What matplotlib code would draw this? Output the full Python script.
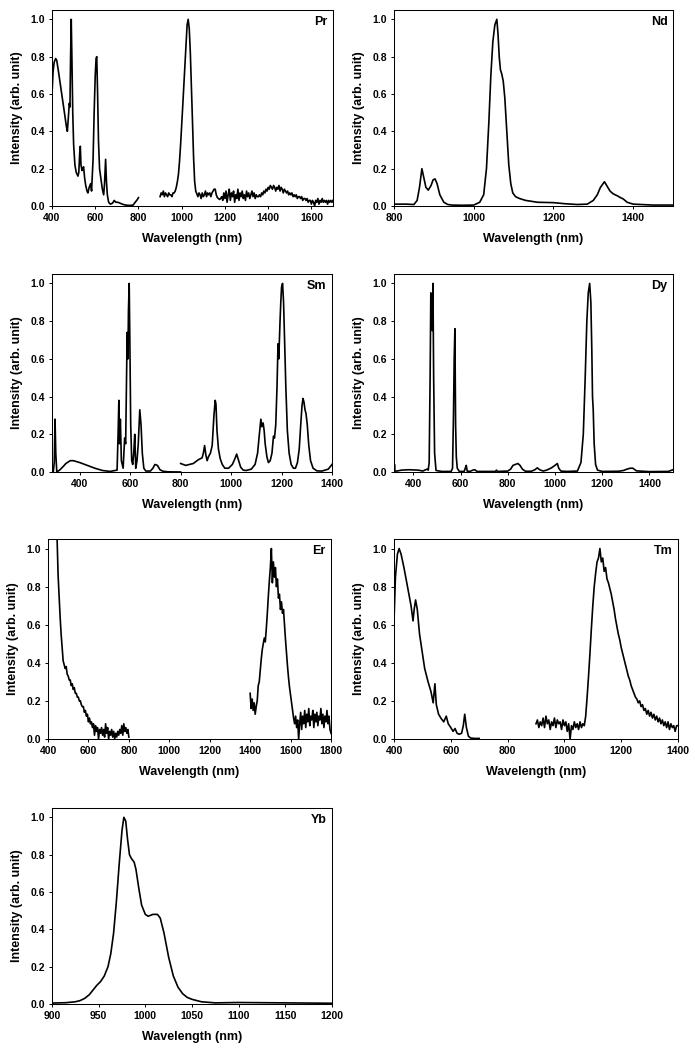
import numpy as np
import matplotlib
matplotlib.use("Agg")
import matplotlib.pyplot as plt

plt.rcParams['font.family'] = ['Liberation Sans', 'DejaVu Sans']
plt.rcParams['font.weight'] = 'bold'

# ---------------- data ----------------
# Pr
pr1_x = [400, 405, 410, 417, 422, 430, 440, 450, 460, 466, 471, 476, 480, 483, 486, 489, 492, 496, 500, 506,
         512, 520, 524, 528, 531, 534, 539, 543, 546, 551, 556, 562, 566, 572, 579, 583, 590, 595, 600, 604,
         607, 611, 615, 620, 627, 633, 639, 643, 648, 652, 656, 662, 670, 680, 688, 695, 705, 715, 725, 740,
         760, 775, 785, 795, 800]
pr1_y = [0.60, 0.72, 0.77, 0.79, 0.78, 0.72, 0.64, 0.56, 0.48, 0.43, 0.40, 0.48, 0.55, 0.53, 0.80, 1.00, 0.80, 0.50, 0.33, 0.22,
         0.18, 0.16, 0.18, 0.28, 0.32, 0.22, 0.19, 0.20, 0.21, 0.15, 0.11, 0.08, 0.07, 0.10, 0.12, 0.08, 0.25, 0.50, 0.70, 0.79,
         0.80, 0.60, 0.35, 0.20, 0.14, 0.09, 0.06, 0.12, 0.25, 0.13, 0.06, 0.02, 0.01, 0.015, 0.03, 0.02, 0.02, 0.015, 0.01, 0.005,
         0.003, 0.005, 0.02, 0.035, 0.045]
pr2_start, pr2_step = 900, 5
pr2_y = [0.05, 0.07, 0.06, 0.08, 0.05, 0.07, 0.06, 0.05, 0.07, 0.06, 0.06, 0.05, 0.07,
         0.07, 0.08, 0.10, 0.13, 0.17, 0.24, 0.33, 0.43, 0.54, 0.65, 0.77, 0.88, 0.97, 1.00, 0.95, 0.82,
         0.64, 0.45, 0.26, 0.13, 0.08, 0.065,
         0.05, 0.07, 0.06, 0.04, 0.07, 0.05, 0.06, 0.08, 0.05, 0.07, 0.06, 0.07, 0.05, 0.07,
         0.08, 0.09, 0.09, 0.06, 0.045, 0.04, 0.035, 0.04,
         0.05, 0.03, 0.07, 0.04, 0.08, 0.02, 0.06, 0.09, 0.03, 0.07, 0.05, 0.08, 0.02, 0.06, 0.04, 0.09, 0.03,
         0.07, 0.05, 0.08, 0.04, 0.06, 0.03, 0.08, 0.05, 0.07, 0.04, 0.06, 0.08, 0.05, 0.07, 0.04, 0.06, 0.05,
         0.05, 0.06, 0.05, 0.07, 0.06, 0.08, 0.07, 0.09, 0.08, 0.10, 0.09, 0.11, 0.10, 0.09, 0.11, 0.10, 0.08,
         0.10, 0.09, 0.11, 0.08, 0.10, 0.09, 0.07, 0.09, 0.08, 0.07, 0.08, 0.06, 0.07,
         0.06, 0.07, 0.05, 0.06, 0.05, 0.06, 0.04, 0.05, 0.05, 0.04, 0.05, 0.03, 0.04, 0.04, 0.03, 0.04, 0.02,
         0.03, 0.03, 0.01, 0.03, 0.02, 0.00, 0.03, 0.02, 0.04, 0.01, 0.03, 0.02, 0.04, 0.02, 0.03, 0.02, 0.03,
         0.01, 0.03, 0.02, 0.03, 0.02, 0.03]

# Nd
nd_x = [800, 830, 850, 858, 864, 870, 875, 880, 886, 893, 898, 903, 908, 915, 925, 935, 945, 970, 1000, 1015,
        1025, 1032, 1038, 1043, 1048, 1053, 1058, 1061, 1064, 1067, 1070, 1074, 1078, 1083, 1088, 1093, 1098, 1105, 1115, 1130,
        1160, 1200, 1230, 1260, 1285, 1300, 1310, 1318, 1328, 1335, 1342, 1350, 1360, 1368, 1375, 1385, 1400, 1450, 1500]
nd_y = [0.01, 0.01, 0.008, 0.03, 0.10, 0.20, 0.15, 0.10, 0.085, 0.11, 0.14, 0.145, 0.12, 0.06, 0.02, 0.008, 0.005, 0.004, 0.005, 0.02,
        0.06, 0.20, 0.45, 0.70, 0.88, 0.97, 1.00, 0.92, 0.80, 0.73, 0.71, 0.67, 0.58, 0.40, 0.22, 0.12, 0.07, 0.05, 0.04, 0.03,
        0.02, 0.018, 0.012, 0.008, 0.01, 0.03, 0.06, 0.10, 0.13, 0.105, 0.08, 0.065, 0.055, 0.045, 0.038, 0.02, 0.01, 0.005, 0.005]

# Sm
sm1_x = [295, 299, 302, 305, 309, 320, 335, 345, 362, 375, 400, 430, 460, 490, 520, 548, 552, 555, 558, 561,
         565, 572, 578, 582, 585, 588, 591, 593, 596, 599, 602, 606, 610, 614, 618, 622, 627, 632, 638, 643,
         648, 654, 662, 680, 690, 698, 708, 718, 730, 750, 800]
sm1_y = [0.00, 0.05, 0.28, 0.10, 0.00, 0.01, 0.03, 0.045, 0.06, 0.06, 0.05, 0.035, 0.02, 0.008, 0.003, 0.01, 0.20, 0.38, 0.15, 0.28,
         0.06, 0.02, 0.18, 0.15, 0.45, 0.74, 0.60, 0.85, 1.00, 0.65, 0.25, 0.06, 0.04, 0.10, 0.20, 0.02, 0.06, 0.15, 0.33, 0.25,
         0.10, 0.02, 0.005, 0.005, 0.02, 0.04, 0.035, 0.012, 0.004, 0.001, 0.0]
sm2_x = [800, 820, 850, 870, 885, 890, 895, 900, 905, 910, 918, 925, 932, 937, 940, 944, 950, 957, 965, 975,
         990, 1005, 1015, 1022, 1030, 1038, 1048, 1060, 1080, 1095, 1105, 1112, 1118, 1122, 1127, 1131, 1135, 1142, 1148, 1155,
         1162, 1168, 1172, 1177, 1182, 1186, 1189, 1192, 1194, 1197, 1200, 1204, 1208, 1212, 1217, 1223, 1230, 1238, 1247, 1255,
         1263, 1270, 1276, 1281, 1285, 1289, 1293, 1297, 1302, 1308, 1315, 1325, 1340, 1360, 1385, 1400]
sm2_y = [0.045, 0.035, 0.045, 0.065, 0.075, 0.10, 0.14, 0.09, 0.06, 0.08, 0.10, 0.14, 0.30, 0.38, 0.36, 0.22, 0.12, 0.07, 0.04, 0.02,
         0.02, 0.04, 0.07, 0.095, 0.06, 0.025, 0.01, 0.008, 0.015, 0.04, 0.10, 0.20, 0.28, 0.24, 0.26, 0.22, 0.15, 0.08, 0.05, 0.06,
         0.10, 0.19, 0.18, 0.25, 0.45, 0.68, 0.60, 0.72, 0.80, 0.90, 0.98, 1.00, 0.90, 0.70, 0.45, 0.22, 0.10, 0.04, 0.02, 0.02,
         0.05, 0.12, 0.25, 0.35, 0.39, 0.37, 0.33, 0.31, 0.25, 0.14, 0.06, 0.02, 0.006, 0.005, 0.015, 0.04]

# Dy
dy_x = [318, 320, 322, 330, 350, 380, 420, 440, 452, 458, 463, 467, 471, 474, 477, 480, 483, 486, 490, 496,
        520, 560, 566, 570, 573, 576, 579, 582, 586, 595, 615, 620, 624, 628, 640, 652, 660, 670, 700, 748,
        752, 756, 800, 812, 822, 832, 843, 852, 862, 875, 900, 915, 925, 935, 950, 965, 985, 1000, 1010, 1016,
        1025, 1050, 1095, 1110, 1120, 1128, 1135, 1141, 1147, 1152, 1156, 1159, 1162, 1166, 1172, 1180, 1200, 1270, 1290, 1305,
        1318, 1330, 1345, 1400, 1480, 1500]
dy_y = [0.0, 0.04, 0.005, 0.005, 0.01, 0.012, 0.01, 0.005, 0.012, 0.015, 0.01, 0.05, 0.50, 0.95, 0.90, 0.75, 1.00, 0.50, 0.10, 0.008,
        0.003, 0.003, 0.02, 0.30, 0.60, 0.76, 0.25, 0.08, 0.02, 0.003, 0.003, 0.02, 0.035, 0.005, 0.003, 0.01, 0.012, 0.003, 0.003, 0.003,
        0.01, 0.003, 0.005, 0.015, 0.035, 0.04, 0.045, 0.035, 0.015, 0.004, 0.004, 0.012, 0.022, 0.012, 0.005, 0.01, 0.022, 0.035, 0.045, 0.02,
        0.005, 0.003, 0.005, 0.05, 0.20, 0.50, 0.80, 0.95, 1.00, 0.90, 0.65, 0.40, 0.33, 0.15, 0.04, 0.01, 0.003, 0.004, 0.008, 0.015,
        0.02, 0.02, 0.006, 0.002, 0.003, 0.012]

# Er
er1_start, er1_step = 445, 5
er1_y = [1.05, 0.86, 0.75, 0.64, 0.55, 0.48, 0.41, 0.39, 0.37, 0.38, 0.34, 0.33, 0.31, 0.31, 0.28, 0.29, 0.26, 0.27, 0.24, 0.24,
         0.22, 0.22, 0.20, 0.20, 0.18, 0.17, 0.17, 0.14, 0.15, 0.12, 0.13, 0.09, 0.11, 0.08, 0.09, 0.06, 0.08, 0.02, 0.07, 0.04,
         0.06, 0.00, 0.05, 0.03, 0.06, 0.02, 0.05, 0.01, 0.08, 0.03, 0.06, 0.00, 0.04, 0.02, 0.05, 0.01, 0.04, 0.00, 0.03, 0.01,
         0.04, 0.02, 0.05, 0.03, 0.07, 0.02, 0.08, 0.04, 0.06, 0.03, 0.05, 0.01]
er2_start, er2_step = 1400, 5
er2_y = [0.24, 0.16, 0.21, 0.15, 0.19, 0.13, 0.17, 0.20, 0.28, 0.30, 0.36, 0.42, 0.47, 0.50, 0.53, 0.51, 0.58, 0.66, 0.75, 0.83,
         0.90, 1.00, 0.82, 0.93, 0.85, 0.90, 0.80, 0.84, 0.74, 0.76, 0.68, 0.72, 0.66, 0.68, 0.60, 0.52, 0.45, 0.38, 0.32, 0.27,
         0.23, 0.19, 0.15, 0.11, 0.08, 0.12, 0.06, 0.10, 0.00, 0.08, 0.14, 0.05, 0.12, 0.08, 0.15, 0.06, 0.13, 0.09, 0.16, 0.07,
         0.12, 0.10, 0.15, 0.06, 0.13, 0.09, 0.14, 0.07, 0.12, 0.10, 0.16, 0.08, 0.13, 0.06, 0.12, 0.09, 0.15, 0.08, 0.12, 0.05,
         0.03]

# Tm
tm1_x = [400, 405, 412, 418, 425, 435, 450, 460, 467, 471, 476, 482, 490, 500, 508, 520, 530, 538, 544, 549,
         557, 565, 575, 584, 591, 600, 608, 615, 622, 630, 638, 644, 649, 655, 662, 670, 685, 700]
tm1_y = [0.62, 0.85, 0.97, 1.00, 0.97, 0.90, 0.78, 0.70, 0.62, 0.68, 0.73, 0.68, 0.55, 0.45, 0.37, 0.30, 0.25, 0.19, 0.29, 0.18,
         0.13, 0.11, 0.09, 0.12, 0.08, 0.06, 0.04, 0.055, 0.03, 0.025, 0.03, 0.07, 0.13, 0.06, 0.015, 0.005, 0.003, 0.003]
tm2_start, tm2_step = 900, 5
tm2_y = [0.08, 0.10, 0.06, 0.09, 0.07, 0.11, 0.06, 0.12, 0.08, 0.10, 0.05, 0.09, 0.07, 0.11, 0.06, 0.10, 0.08, 0.09, 0.05, 0.10,
         0.07, 0.09, 0.04, 0.08, 0.00, 0.07, 0.05, 0.09, 0.06, 0.08, 0.05, 0.09, 0.06, 0.08, 0.07, 0.12, 0.22, 0.33, 0.45, 0.58,
         0.70, 0.80, 0.87, 0.93, 0.95, 1.00, 0.93, 0.95, 0.88, 0.90, 0.84, 0.82, 0.79, 0.76, 0.72, 0.68, 0.63, 0.59, 0.55, 0.52,
         0.48, 0.45, 0.42, 0.39, 0.36, 0.33, 0.31, 0.28, 0.26, 0.24, 0.22, 0.21, 0.19, 0.20, 0.17, 0.18, 0.15, 0.16, 0.13, 0.15,
         0.12, 0.14, 0.11, 0.13, 0.10, 0.12, 0.09, 0.11, 0.08, 0.10, 0.07, 0.09, 0.06, 0.09, 0.05, 0.08, 0.06, 0.07, 0.04, 0.07,
         0.07]

# Yb
yb_x = [900, 915, 925, 930, 935, 940, 944, 948, 952, 956, 960, 963, 966, 969, 972, 975, 977, 979, 981, 983,
        985, 988, 990, 993, 996, 1000, 1003, 1008, 1013, 1016, 1020, 1025, 1030, 1035, 1040, 1045, 1050, 1060, 1075, 1100,
        1150, 1200]
yb_y = [0.005, 0.007, 0.012, 0.018, 0.03, 0.05, 0.075, 0.10, 0.12, 0.15, 0.20, 0.27, 0.38, 0.55, 0.75, 0.93, 1.00, 0.98, 0.88, 0.80,
        0.78, 0.76, 0.72, 0.62, 0.53, 0.48, 0.47, 0.48, 0.48, 0.46, 0.38, 0.25, 0.15, 0.09, 0.055, 0.035, 0.025, 0.012, 0.006, 0.008,
        0.006, 0.004]


def reg(start, step, ys):
    return start + step * np.arange(len(ys))


panels = [
    # name, box (l, t, r, b) in px, xlim, xticks, segments
    ("Pr", (52, 10, 333, 206), (400, 1700), np.arange(400, 1601, 200),
     [(pr1_x, pr1_y), (reg(pr2_start, pr2_step, pr2_y), pr2_y)]),
    ("Nd", (394, 10, 673, 206), (800, 1500), np.arange(800, 1401, 200),
     [(nd_x, nd_y)]),
    ("Sm", (52, 274, 332, 472), (290, 1400), np.arange(400, 1401, 200),
     [(sm1_x, sm1_y), (sm2_x, sm2_y)]),
    ("Dy", (394, 274, 673, 472), (318, 1500), np.arange(400, 1401, 200),
     [(dy_x, dy_y)]),
    ("Er", (48, 539, 331, 739), (400, 1800), np.arange(400, 1801, 200),
     [(reg(er1_start, er1_step, er1_y), er1_y), (reg(er2_start, er2_step, er2_y), er2_y)]),
    ("Tm", (394, 539, 678, 739), (400, 1400), np.arange(400, 1401, 200),
     [(tm1_x, tm1_y), (reg(tm2_start, tm2_step, tm2_y), tm2_y)]),
    ("Yb", (52, 808, 332, 1004), (900, 1200), np.arange(900, 1201, 50),
     [(yb_x, yb_y)]),
]

W, H = 695, 1050
fig = plt.figure(figsize=(W / 100, H / 100), dpi=100)

for name, (l, t, r, b), xlim, xticks, segs in panels:
    ax = fig.add_axes([l / W, 1 - b / H, (r - l) / W, (b - t) / H])
    for xs, ys in segs:
        ax.plot(xs, ys, color='black', lw=1.2, solid_joinstyle='round')
    ax.set_xlim(*xlim)
    ax.set_ylim(0, 1.05)
    ax.set_xticks(xticks)
    ax.set_yticks(np.arange(0, 1.01, 0.2))
    ax.set_yticklabels([f"{v:.1f}" for v in np.arange(0, 1.01, 0.2)])
    ax.tick_params(direction='out', length=2.2, width=0.7, labelsize=7.5, pad=3)
    for lab in ax.get_xticklabels() + ax.get_yticklabels():
        lab.set_fontweight('bold')
    for sp in ax.spines.values():
        sp.set_linewidth(0.75)
    ax.set_xlabel("Wavelength (nm)", fontsize=9, fontweight='bold', labelpad=7)
    ax.set_ylabel("Intensity (arb. unit)", fontsize=9, fontweight='bold', labelpad=5)
    ax.text(0.98, 0.97, name, transform=ax.transAxes, ha='right', va='top',
            fontsize=9, fontweight='bold')

fig.savefig("out.png", dpi=100)
